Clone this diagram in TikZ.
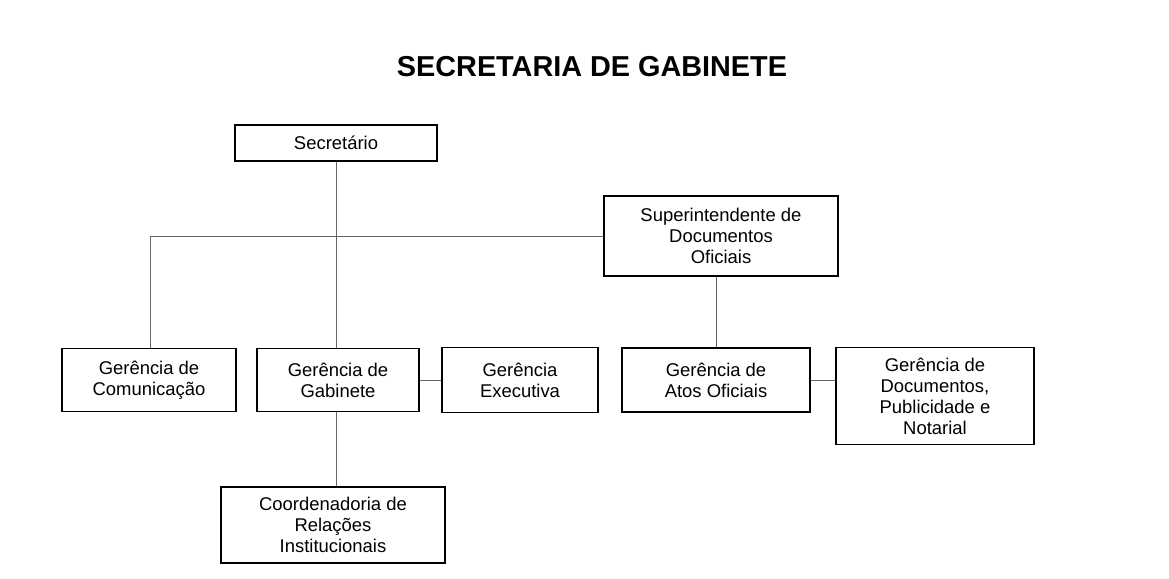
\documentclass[tikz,border=0pt]{standalone}
\usepackage{fontspec}
\setmainfont{Liberation Sans}
\tikzset{
  unit/.style={draw, thick, align=center, inner sep=1pt,
    font=\fontsize{10.5}{12}\selectfont},
  link/.style={draw=black!60, thin}
}
\begin{document}
\begin{tikzpicture}[x=0.02cm, y=-0.02cm]
  \useasboundingbox (0,0) rectangle (1169,578);
  \node[font=\bfseries\fontsize{16.4}{19}\selectfont] (title) at (592,67) {SECRETARIA DE GABINETE};

  % boxes
  \node[unit, minimum width=4.04cm, minimum height=0.72cm] (sec) at (336,143) {Secret\'ario};
  \node[unit, minimum width=4.68cm, minimum height=1.6cm] (sup) at (721,236) {Superintendente de\\Documentos\\Oficiais};
  \node[unit, minimum width=3.48cm, minimum height=1.26cm] (com) at (149,380) {Ger\^encia de\\Comunica\c{c}\~ao};
  \node[unit, minimum width=3.24cm, minimum height=1.26cm] (gab) at (338,380) {Ger\^encia de\\Gabinete};
  \node[unit, minimum width=3.12cm, minimum height=1.3cm] (exe) at (520,380) {Ger\^encia\\Executiva};
  \node[unit, minimum width=3.76cm, minimum height=1.28cm] (atos) at (716,380) {Ger\^encia de\\Atos Oficiais};
  \node[unit, minimum width=3.96cm, minimum height=1.94cm] (doc) at (935,396) {Ger\^encia de\\Documentos,\\Publicidade e\\Notarial};
  \node[unit, minimum width=4.48cm, minimum height=1.52cm] (coo) at (333,525) {Coordenadoria de\\Rela\c{c}\~oes\\Institucionais};

  % connectors
  \coordinate (corner) at (150,236);
  \coordinate (trunk) at (336,0);
  \draw[link] (sec.south -| trunk) -- (gab.north -| trunk);
  \draw[link] (sup.west |- corner) -- (corner) -- (com.north -| corner);
  \draw[link] (sup.south -| atos.north) -- (atos.north);
  \draw[link] (gab.east) -- (exe.west);
  \draw[link] (atos.east) -- (atos.east -| doc.west);
  \draw[link] (gab.south -| trunk) -- (coo.north -| trunk);
\end{tikzpicture}
\end{document}
